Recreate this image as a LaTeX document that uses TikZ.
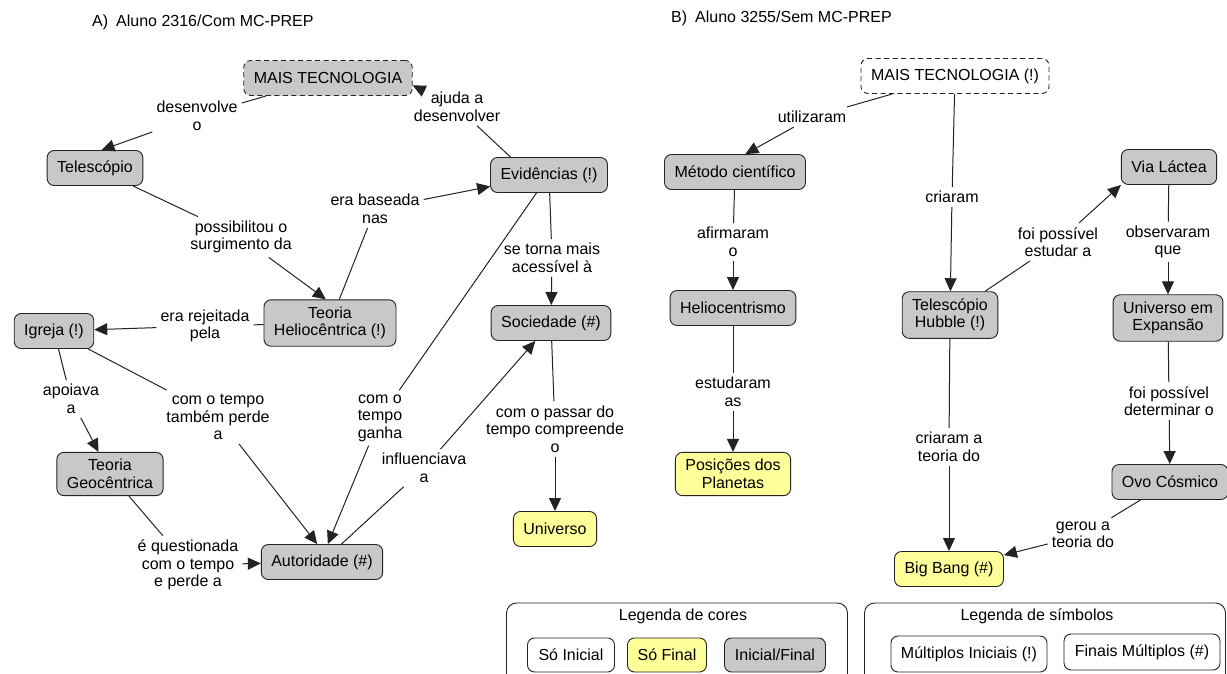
\documentclass[tikz,border=0pt]{standalone}
\usepackage{fontspec}
\setmainfont{Liberation Sans}
\usetikzlibrary{arrows.meta}
\definecolor{cgray}{RGB}{200,200,200}
\definecolor{cyellow}{RGB}{255,255,153}
\definecolor{cline}{RGB}{35,35,35}
\tikzset{
  concept/.style={rectangle,rounded corners=7pt,draw=cline,line width=0.9pt,fill=cgray,
    align=center,inner xsep=10pt,inner ysep=7pt,minimum height=35pt,
    font=\fontsize{16}{17.5}\selectfont},
  final/.style={concept,fill=cyellow},
  initial/.style={concept,fill=white},
  tech/.style={concept,dash pattern=on 5pt off 3.5pt},
  link/.style={align=center,inner sep=4pt,font=\fontsize{16}{17.5}\selectfont},
  legendbox/.style={rectangle,rounded corners=10pt,draw=cline,line width=0.9pt},
  title/.style={anchor=west,inner sep=0pt,font=\fontsize{16}{18}\selectfont},
  cx/.style={draw=cline,line width=1pt},
  cxa/.style={cx,-{Triangle[length=13pt,width=12pt]}},
}

\begin{document}
\begin{tikzpicture}[x=1pt,y=-1pt]
  \clip (0,0) rectangle (1227,673);

  % A) with MC-PREP
  \node[title] (titA) at (92,22) {A)\hspace{8pt}Aluno 2316/Com MC-PREP};
  \node[tech,minimum width=167pt] (maisA) at (328,78) {MAIS TECNOLOGIA};
  \node[concept] (tel) at (95,168) {Telescópio};
  \node[concept] (evid) at (549,175) {Evidências (!)};
  \node[concept] (helio) at (330,323) {Teoria\\Heliocêntrica (!)};
  \node[concept] (igreja) at (54,331) {Igreja (!)};
  \node[concept] (soc) at (551,323) {Sociedade (\#)};
  \node[concept] (geo) at (110,474) {Teoria\\Geocêntrica};
  \node[concept] (aut) at (322,562) {Autoridade (\#)};
  \node[final] (univ) at (555,529) {Universo};

  \node[link] (desenv) at (197,116) {desenvolve\\o};
  \node[link] (ajuda) at (457,107) {ajuda a\\desenvolver};
  \node[link] (basead) at (375,209) {era baseada\\nas};
  \node[link] (possib) at (241,237) {possibilitou o\\surgimento da};
  \node[link] (rejeit) at (205,326) {era rejeitada\\pela};
  \node[link] (apoia) at (71,399) {apoiava\\a};
  \node[link] (perde) at (218,417) {com o tempo\\também perde\\a};
  \node[link] (ganha) at (380,418) {com o\\tempo\\ganha};
  \node[link] (influ) at (424,468) {influenciava\\a};
  \node[link] (acess) at (552,258) {se torna mais\\acessível à};
  \node[link] (passar) at (555,429) {com o passar do\\tempo compreende\\o};
  \node[link] (quest) at (188,565) {é questionada\\com o tempo\\e perde a};

  \draw[cx] (maisA) -- (desenv);
  \draw[cxa] (desenv) -- (tel.70);
  \draw[cx] (evid.155) -- (ajuda);
  \draw[cxa] (ajuda) -- (maisA.-5);
  \draw[cx] (helio) -- (basead);
  \draw[cxa] (basead) -- (evid);
  \draw[cx] (tel) -- (possib);
  \draw[cxa] (possib) -- (helio.100);
  \draw[cx] (helio) -- (rejeit);
  \draw[cxa] (rejeit) -- (igreja);
  \draw[cx] (igreja) -- (apoia);
  \draw[cxa] (apoia) -- (geo);
  \draw[cx] (igreja) -- (perde);
  \draw[cxa] (perde) -- (aut.105);
  \draw[cx] (evid) -- (ganha);
  \draw[cxa] (ganha) -- (aut.72);
  \draw[cx] (aut) -- (influ);
  \draw[cxa] (influ) -- (soc);
  \draw[cx] (evid) -- (acess);
  \draw[cxa] (acess) -- (soc);
  \draw[cx] (soc) -- (passar);
  \draw[cxa] (passar) -- (univ);
  \draw[cx] (geo) -- (quest);
  \draw[cxa] (quest) -- (aut);

  % B) without MC-PREP
  \node[title] (titB) at (671,18) {B)\hspace{8pt}Aluno 3255/Sem MC-PREP};
  \node[tech,fill=white,minimum width=187pt] (maisB) at (955,76) {MAIS TECNOLOGIA (!)};
  \node[concept] (metodo) at (735,172) {Método científico};
  \node[concept] (helioc) at (733,308) {Heliocentrismo};
  \node[final] (posic) at (733,474) {Posições dos\\Planetas};
  \node[concept] (hubble) at (950,315) {Telescópio\\Hubble (!)};
  \node[concept] (via) at (1169,167) {Via Láctea};
  \node[concept] (expan) at (1168,318) {Universo em\\Expansão};
  \node[concept] (ovo) at (1170,482) {Ovo Cósmico};
  \node[final] (bigbang) at (949,569) {Big Bang (\#)};

  \node[link] (utiliz) at (812,117) {utilizaram};
  \node[link] (afirm) at (733,242) {afirmaram\\o};
  \node[link] (estud) at (733,392) {estudaram\\as};
  \node[link] (criar) at (952,197) {criaram};
  \node[link] (estudar) at (1058,242) {foi possível\\estudar a};
  \node[link] (observ) at (1168,242) {observaram\\que};
  \node[link] (determ) at (1169,401) {foi possível\\determinar o};
  \node[link] (teoria) at (949,447) {criaram a\\teoria do};
  \node[link] (gerou) at (1083,535) {gerou a\\teoria do};

  \draw[cx] (maisB) -- (utiliz);
  \draw[cxa] (utiliz) -- (metodo.60);
  \draw[cx] (metodo) -- (afirm);
  \draw[cxa] (afirm) -- (helioc);
  \draw[cx] (helioc) -- (estud);
  \draw[cxa] (estud) -- (posic);
  \draw[cx] (maisB) -- (criar);
  \draw[cxa] (criar) -- (hubble);
  \draw[cx] (hubble) -- (estudar);
  \draw[cxa] (estudar) -- (via.south west);
  \draw[cx] (via) -- (observ);
  \draw[cxa] (observ) -- (expan);
  \draw[cx] (expan) -- (determ);
  \draw[cxa] (determ) -- (ovo);
  \draw[cx] (hubble) -- (teoria);
  \draw[cxa] (teoria) -- (bigbang);
  \draw[cx] (ovo) -- (gerou);
  \draw[cxa] (gerou) -- (bigbang);

  % legends
  \node[legendbox,minimum width=341pt,minimum height=100pt] (legcor) at (677,653) {};
  \node[link] (legcorT) at (683,616) {Legenda de cores};
  \node[initial,minimum width=87pt,minimum height=34pt] (soini) at (571,655) {Só Inicial};
  \node[final,minimum width=79pt,minimum height=34pt] (sofin) at (667,655) {Só Final};
  \node[concept,minimum width=101pt,minimum height=34pt] (inifin) at (775,655) {Inicial/Final};

  \node[legendbox,minimum width=361pt,minimum height=100pt] (legsim) at (1045,653) {};
  \node[link] (legsimT) at (1037,616) {Legenda de símbolos};
  \node[initial,minimum width=152pt,minimum height=36pt] (multini) at (969,654) {Múltiplos Iniciais (!)};
  \node[initial,minimum width=156pt,minimum height=36pt] (finmult) at (1142,652) {Finais Múltiplos (\#)};
\end{tikzpicture}
\end{document}
